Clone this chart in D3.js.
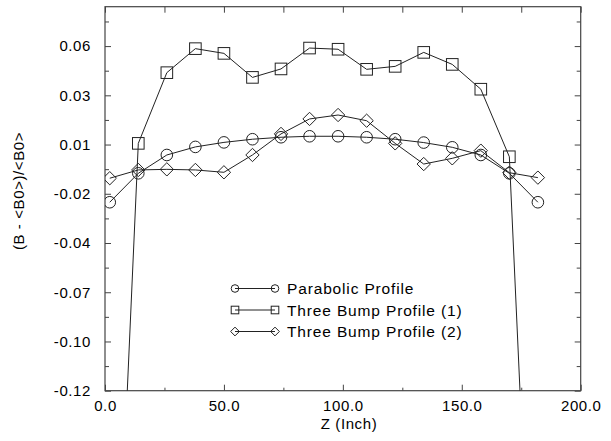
<!DOCTYPE html>
<html>
<head>
<meta charset="utf-8">
<script src="https://cdn.jsdelivr.net/npm/d3@7"></script>
<style>
  body { margin: 0; background: #fff; }
  svg { display: block; font-family: "Liberation Sans", Arial, Helvetica, sans-serif; }
  .tick text { font-size: 15px; letter-spacing: 0.6px; fill: #000; }
</style>
</head>
<body>
<svg id="chart" width="611" height="441"></svg>
<script>
// ---- data ----
const zValues = [2, 14, 26, 38, 50, 62, 74, 86, 98, 110, 122, 134, 146, 158, 170, 182];
const parabolic = [-0.0243, -0.0096, -0.0003, 0.0038, 0.0061, 0.0077, 0.0087, 0.0092, 0.0092, 0.0087, 0.0077, 0.0060, 0.0036, -0.0003, -0.0096, -0.0243];
const threeBump1 = [-0.32, 0.0056, 0.0415, 0.0537, 0.0513, 0.0391, 0.0434, 0.0540, 0.0534, 0.0432, 0.0447, 0.0518, 0.0457, 0.0331, -0.0012, -0.32];
const threeBump2 = [-0.0121, -0.0079, -0.0076, -0.0079, -0.0091, -0.0003, 0.0104, 0.0180, 0.0200, 0.0171, 0.0056, -0.0049, -0.0020, 0.0019, -0.0093, -0.0118];
const seriesNames = ["Parabolic Profile", "Three Bump Profile (1)", "Three Bump Profile (2)"];
const seriesShapes = ["circle", "square", "diamond"];
const xTickValues = [0, 50, 100, 150, 200];
const xTickLabels = ["0.0", "50.0", "100.0", "150.0", "200.0"];
const xMinorTicks = [25, 75, 125, 175];
const yTickValues = [-0.12, -0.095, -0.07, -0.045, -0.02, 0.005, 0.03, 0.055];
const yTickLabels = ["-0.12", "-0.10", "-0.07", "-0.04", "-0.02", "0.01", "0.03", "0.06"];
const yMinorTicks = [-0.1075, -0.0825, -0.0575, -0.0325, -0.0075, 0.0175, 0.0425, 0.0675];
const xLabel = "Z (Inch)";
const yLabel = "(B - <B0>)/<B0>";

// ---- layout ----
const L = 105, R = 580.7, T = 6.7, B = 390.7;
const svg = d3.select("#chart");
const x = d3.scaleLinear().domain([0, 200]).range([L, R]);
const y = d3.scaleLinear().domain([-0.12, 0.075]).range([B, T]);
const frameColor = "#444";
const lineColor = "#222";

svg.append("defs").append("clipPath").attr("id", "clip")
  .append("rect").attr("x", L).attr("y", T).attr("width", R - L).attr("height", B - T);

function styleAxis(g) {
  g.select(".domain").remove();
  g.selectAll(".tick line").attr("stroke", frameColor);
}

// major axes
svg.append("g").attr("transform", `translate(0,${B})`)
  .call(d3.axisBottom(x).tickValues(xTickValues).tickFormat((d, i) => xTickLabels[i]).tickSizeInner(-6).tickSizeOuter(0).tickPadding(10))
  .call(styleAxis);
svg.append("g").attr("transform", `translate(0,${T})`)
  .call(d3.axisTop(x).tickValues(xTickValues).tickFormat("").tickSizeInner(-6).tickSizeOuter(0))
  .call(styleAxis);
svg.append("g").attr("transform", `translate(${L},0)`)
  .call(d3.axisLeft(y).tickValues(yTickValues).tickFormat((d, i) => yTickLabels[i]).tickSizeInner(-6).tickSizeOuter(0).tickPadding(14))
  .call(styleAxis);
svg.append("g").attr("transform", `translate(${R},0)`)
  .call(d3.axisRight(y).tickValues(yTickValues).tickFormat("").tickSizeInner(-6).tickSizeOuter(0))
  .call(styleAxis);
// minor ticks
svg.append("g").attr("transform", `translate(0,${B})`)
  .call(d3.axisBottom(x).tickValues(xMinorTicks).tickFormat("").tickSizeInner(-3).tickSizeOuter(0)).call(styleAxis);
svg.append("g").attr("transform", `translate(0,${T})`)
  .call(d3.axisTop(x).tickValues(xMinorTicks).tickFormat("").tickSizeInner(-6).tickSizeOuter(0)).call(styleAxis);
svg.append("g").attr("transform", `translate(${L},0)`)
  .call(d3.axisLeft(y).tickValues(yMinorTicks.filter(v => v < 0.075)).tickFormat("").tickSizeInner(-4).tickSizeOuter(0)).call(styleAxis);
svg.append("g").attr("transform", `translate(${R},0)`)
  .call(d3.axisRight(y).tickValues(yMinorTicks.filter(v => v < 0.075)).tickFormat("").tickSizeInner(-4).tickSizeOuter(0)).call(styleAxis);

// frame
svg.append("rect").attr("x", L).attr("y", T).attr("width", R - L).attr("height", B - T)
  .attr("fill", "none").attr("stroke", frameColor).attr("stroke-width", 1.2);

// axis labels
svg.append("text").attr("x", 349).attr("y", 429).attr("text-anchor", "middle")
  .attr("font-size", 15).attr("letter-spacing", 0.6).text(xLabel);
svg.append("text").attr("transform", `translate(24,191) rotate(-90)`).attr("text-anchor", "middle")
  .attr("font-size", 15).attr("letter-spacing", 0.6).text(yLabel);

// markers
function drawMarker(g, shape, cx, cy, s) {
  if (shape === "circle") {
    g.append("circle").attr("cx", cx).attr("cy", cy).attr("r", s)
      .attr("fill", "none").attr("stroke", lineColor).attr("stroke-width", 1);
  } else if (shape === "square") {
    g.append("rect").attr("x", cx - s).attr("y", cy - s).attr("width", 2 * s).attr("height", 2 * s)
      .attr("fill", "none").attr("stroke", lineColor).attr("stroke-width", 1);
  } else {
    const d = s * 1.15;
    g.append("path").attr("d", `M${cx},${cy - d}L${cx + d},${cy}L${cx},${cy + d}L${cx - d},${cy}Z`)
      .attr("fill", "none").attr("stroke", lineColor).attr("stroke-width", 1);
  }
}

const plot = svg.append("g").attr("clip-path", "url(#clip)");
const allSeries = [parabolic, threeBump1, threeBump2];
const line = d3.line().x(d => x(d[0])).y(d => y(d[1]));
allSeries.forEach((vals, si) => {
  const pts = zValues.map((z, i) => [z, vals[i]]);
  plot.append("path").datum(pts).attr("d", line)
    .attr("fill", "none").attr("stroke", lineColor).attr("stroke-width", 1);
  pts.forEach(p => drawMarker(plot, seriesShapes[si], x(p[0]), y(p[1]), 5.8));
});

// legend
const legY0 = 288.5, legStep = 21.5;
seriesNames.forEach((name, i) => {
  const ly = legY0 + i * legStep;
  svg.append("line").attr("x1", 235).attr("x2", 275).attr("y1", ly).attr("y2", ly)
    .attr("stroke", lineColor).attr("stroke-width", 1);
  drawMarker(svg, seriesShapes[i], 235, ly, 3.8);
  drawMarker(svg, seriesShapes[i], 275, ly, 3.8);
  svg.append("text").attr("x", 287).attr("y", ly + 5.5).attr("font-size", 15.5)
    .attr("letter-spacing", 0.85).text(name);
});
</script>
</body>
</html>
